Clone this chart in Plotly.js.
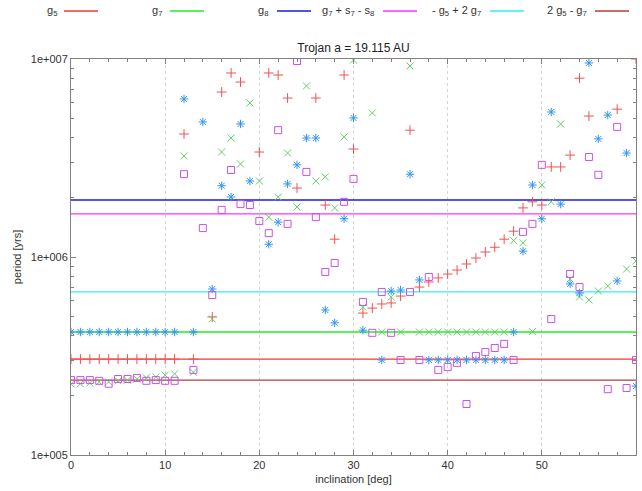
<!DOCTYPE html>
<html>
<head>
<meta charset="utf-8">
<script src="https://cdn.plot.ly/plotly-3.0.1.min.js"></script>
<style>html,body{margin:0;padding:0;background:#fff;}#chart{width:642px;height:491px;}</style>
</head>
<body>
<div id="chart"></div>
<script>
// inclination in degrees
var inclination = [];
for (var i = 0; i <= 60; i++) inclination.push(i);

// periods [yrs] (null = not shown / off chart)
var seriesPlus = [3.05e5,3.05e5,3.05e5,3.05e5,3.05e5,3.05e5,3.05e5,3.05e5,3.05e5,3.05e5,
  3.05e5,3.05e5,4.18e6,3.05e5,null,4.98e5,6.81e6,8.5e6,7.65e6,null,
  3.39e6,8.5e6,8.3e6,6.35e6,2.23e6,null,6.35e6,1.83e6,1.23e6,8.3e6,
  3.51e6,5.21e5,5.52e5,5.79e5,5.86e5,6.35e5,4.37e6,7.05e5,7.48e5,7.84e5,
  8.2e5,8.59e5,9.22e5,9.88e5,1.06e6,1.12e6,1.23e6,1.35e6,1.77e6,1.90e6,
  1.83e6,2.85e6,2.85e6,3.27e6,8.0e6,5.15e6,null,null,5.58e6,null,1.0e7];

var seriesCross = [2.29e5,2.29e5,2.31e5,2.34e5,2.34e5,2.37e5,2.39e5,2.42e5,2.45e5,2.48e5,
  2.53e5,2.57e5,3.24e6,2.62e5,null,4.86e5,3.39e6,3.99e6,2.95e6,6.0e6,
  2.42e6,1.59e6,2.01e6,3.35e6,1.79e6,7.31e6,2.42e6,2.54e6,1.77e6,4.04e6,
  9.88e6,5.58e5,5.34e6,4.18e5,6.28e5,4.18e5,9.22e6,4.18e5,4.18e5,4.18e5,
  4.18e5,4.18e5,4.18e5,4.18e5,4.18e5,4.18e5,4.18e5,1.21e6,1.18e6,4.2e5,
  2.31e6,1.90e6,4.7e6,7.74e5,6.28e5,6.07e5,6.73e5,7.14e5,null,8.69e5,9.55e5];

var seriesStar = [4.18e5,4.18e5,4.18e5,4.18e5,4.18e5,4.18e5,4.18e5,4.18e5,4.18e5,4.18e5,
  4.18e5,4.18e5,6.28e6,4.18e5,4.81e6,6.89e5,2.29e6,2.01e6,4.7e6,2.42e6,
  null,1.16e6,1.50e6,2.34e6,2.92e6,3.99e6,3.99e6,5.4e5,4.65e5,1.56e6,
  5.04e6,4.27e5,null,3.02e5,6.73e5,6.81e5,2.62e6,7.66e5,3.02e5,3.02e5,
  3.02e5,3.02e5,3.02e5,3.02e5,3.02e5,3.02e5,3.02e5,4.18e5,1.07e6,2.31e6,
  1.56e6,5.4e6,1.85e6,7.31e5,6.58e5,9.55e6,3.95e6,5.21e6,7.57e5,3.35e6,2.23e5];

var seriesSquare = [2.39e5,2.39e5,2.39e5,2.37e5,2.29e5,2.42e5,2.42e5,2.45e5,2.37e5,2.39e5,
  2.37e5,2.37e5,2.62e6,2.69e5,1.40e6,6.43e5,1.73e6,2.75e6,1.85e6,1.83e6,
  1.52e6,1.32e6,4.37e6,1.47e6,9.77e6,2.69e6,1.59e6,8.4e5,9.33e5,1.90e6,
  2.48e6,5.93e5,4.14e5,6.66e5,4.14e5,3.02e5,6.66e5,3.02e5,7.93e5,2.69e5,
  2.78e5,2.92e5,1.81e5,3.16e5,3.31e5,3.47e5,3.64e5,3.02e5,1.34e6,1.47e6,
  2.92e6,4.86e5,null,8.2e5,7.05e5,3.2e6,2.6e6,2.15e5,4.54e6,2.18e5,3.02e5];

// secular frequency periods (horizontal lines)
var lineNames = ["g<sub>5</sub>", "g<sub>7</sub>", "g<sub>8</sub>",
  "g<sub>7</sub> + s<sub>7</sub> - s<sub>8</sub>", "- g<sub>5</sub> + 2 g<sub>7</sub>", "2 g<sub>5</sub> - g<sub>7</sub>"];
var linePeriods = [3.05e5, 4.18e5, 1.94e6, 1.65e6, 6.66e5, 2.39e5];
var lineColors = ["#ee3a3a", "#22ee22", "#1a1add", "#ff33ff", "#33eeee", "#b83c3c"];

var xRange = [0, 60];
var yTickVals = [1e5, 1e6, 1e7];
var yTickText = ["1e+005", "1e+006", "1e+007"];
var xTickVals = [0, 10, 20, 30, 40, 50, 60];

var traces = [];
for (var k = 0; k < linePeriods.length; k++) {
  traces.push({
    x: xRange, y: [linePeriods[k], linePeriods[k]],
    mode: "lines", line: {color: lineColors[k], width: 1.3},
    showlegend: false, hoverinfo: "skip"
  });
}
traces.push({x: inclination, y: seriesPlus, mode: "markers",
  marker: {symbol: "cross-thin-open", size: 7, color: "#f55050", line: {width: 1, color: "#f55050"}}, showlegend: false});
traces.push({x: inclination, y: seriesCross, mode: "markers",
  marker: {symbol: "x-thin-open", size: 7, color: "#62d062", line: {width: 1, color: "#62d062"}}, showlegend: false});
traces.push({x: inclination, y: seriesStar, mode: "markers",
  marker: {symbol: "asterisk-open", size: 7, color: "#3394f2", line: {width: 1, color: "#3394f2"}}, showlegend: false});
traces.push({x: inclination, y: seriesSquare, mode: "markers",
  marker: {symbol: "square-open", size: 7, color: "#c852ea", line: {width: 1, color: "#c852ea"}}, showlegend: false});

// manual legend (text then line sample), positions in pixels
var W = 642, H = 491, L = 71, R = 6, T = 59, B = 36;
var pw = W - L - R, ph = H - T - B;
function px2x(p) { return (p - L) / pw; }
function py2y(p) { return (H - B - p) / ph; }
var legTextEnd = [59, 164, 270, 376, 483, 589];
var legLine0 = [64, 170, 277, 383, 490, 595];
var legLen = 34, legY = 11;

var annotations = [], shapes = [];
for (var k = 0; k < lineNames.length; k++) {
  annotations.push({xref: "paper", yref: "paper", x: px2x(legTextEnd[k]), y: py2y(legY),
    xanchor: "right", yanchor: "middle", showarrow: false, text: lineNames[k],
    font: {family: "Liberation Sans, Arial, sans-serif", size: 11, color: "#333"}});
  shapes.push({type: "line", xref: "paper", yref: "paper",
    x0: px2x(legLine0[k]), x1: px2x(legLine0[k] + legLen), y0: py2y(legY), y1: py2y(legY),
    line: {color: lineColors[k], width: 1.3}});
}

var minorY = [];
[1e5, 1e6].forEach(function (d) { for (var m = 2; m <= 9; m++) minorY.push(m * d); });

var layout = {
  width: W, height: H,
  margin: {l: L, r: R, t: T, b: B},
  paper_bgcolor: "#fff", plot_bgcolor: "#fff",
  font: {family: "Liberation Sans, Arial, sans-serif", size: 11, color: "#333"},
  title: {text: "Trojan a = 19.115 AU", font: {size: 12, color: "#222"},
    x: 0.5, xref: "paper", y: 1 - 48 / H, yref: "container", yanchor: "middle"},
  xaxis: {range: xRange, tickvals: xTickVals, ticks: "inside", ticklen: 5, tickcolor: "#808080",
    showline: true, linecolor: "#808080", linewidth: 1, mirror: "allticks",
    showgrid: true, gridcolor: "#d4d4d4", griddash: "dot", gridwidth: 1, zeroline: false,
    minor: {dtick: 2, ticks: "inside", ticklen: 3, tickcolor: "#808080", showgrid: false},
    title: {text: "inclination [deg]", standoff: 5, font: {size: 11, color: "#333"}},
    tickfont: {size: 11, color: "#333"}},
  yaxis: {type: "log", range: [5, 7], tickvals: yTickVals, ticktext: yTickText,
    ticks: "inside", ticklen: 5, tickcolor: "#808080",
    showline: true, linecolor: "#808080", linewidth: 1, mirror: "allticks",
    showgrid: false, zeroline: false,
    minor: {tickvals: minorY, ticks: "inside", ticklen: 3, tickcolor: "#808080", showgrid: false},
    title: {text: "period [yrs]", standoff: 6, font: {size: 11, color: "#333"}},
    tickfont: {size: 11, color: "#333"}},
  annotations: annotations,
  shapes: shapes,
  showlegend: false
};

Plotly.newPlot("chart", traces, layout, {displayModeBar: false, staticPlot: true});
</script>
</body>
</html>
